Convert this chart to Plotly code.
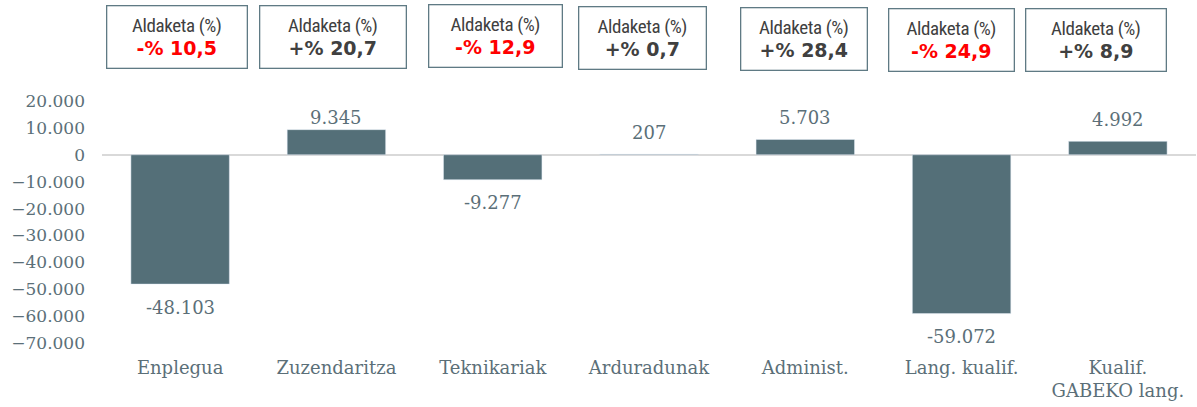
import plotly.graph_objects as go

categories = ["Enplegua", "Zuzendaritza", "Teknikariak", "Arduradunak", "Administ.", "Lang. kualif.", "Kualif.<br>GABEKO lang."]
values = [-48103, 9345, -9277, 207, 5703, -59072, 4992]
change_labels = ["-% 10,5", "+% 20,7", "-% 12,9", "+% 0,7", "+% 28,4", "-% 24,9", "+% 8,9"]
change_header = "Aldaketa (%)"
tick_vals = [20000, 10000, 0, -10000, -20000, -30000, -40000, -50000, -60000, -70000]

BAR = "#546F78"
TXT = "#5B6F78"
SERIF = "DejaVu Serif, Liberation Serif, serif"

Y_MIN, Y_MAX = -70000, 20000
PLOT_H = 242
px_per_unit = PLOT_H / (Y_MAX - Y_MIN)

fig = go.Figure()
fig.add_trace(go.Bar(x=categories, y=values, marker_color=BAR, width=0.63, hoverinfo="skip"))

# value labels (positive labels kept inside the plot area top, like the original)
for c, v in zip(categories, values):
    if v >= 0:
        shift = min(22, 37 - v * px_per_unit)
    else:
        shift = -23
    fig.add_annotation(x=c, y=v, xref="x", yref="y", text=f"{v:,d}".replace(",", "."),
                       showarrow=False, yanchor="middle", yshift=shift,
                       font=dict(family=SERIF, size=18, color=TXT))

# change boxes
box_shift = [-3, -3, 3, -7, -1, -10, -22]
box_yshift = [64, 64, 65, 63, 62, 61, 61]
box_width = [135, 141, 128, 122, 121, 120, 135]
for i, (c, lab) in enumerate(zip(categories, change_labels)):
    col = "#FF0000" if lab.startswith("-") else "#404040"
    fig.add_annotation(
        x=c, xref="x", y=1, yref="paper", yanchor="middle", yshift=box_yshift[i], xshift=box_shift[i],
        showarrow=False, width=box_width[i], height=57, align="center",
        bordercolor="#5F7A84", borderwidth=1.3, borderpad=2, bgcolor="white",
        text=(f"<span style='font-family:Liberation Sans Narrow, Roboto Condensed, Liberation Sans; font-size:19px; color:#404040; letter-spacing:-0.4px'>{change_header}</span>"
              f"<br><span style='font-family:DejaVu Sans, Verdana; font-weight:bold; font-size:19px; color:{col}'><b>{lab}</b></span>"),
        font=dict(family="Liberation Sans", size=18, color="#404040"),
    )

fig.update_layout(
    width=1197, height=407,
    margin=dict(l=102, r=1, t=101, b=64, autoexpand=False),
    paper_bgcolor="white", plot_bgcolor="white",
    separators=",.",
    showlegend=False,
    bargap=0.37,
    hovermode=False,
    xaxis=dict(showgrid=False, showline=False, ticks="", tickfont=dict(family=SERIF, size=18, color=TXT),
               ticklabelstandoff=12),
    yaxis=dict(range=[Y_MIN, Y_MAX], tickvals=tick_vals, tickformat=",d", showgrid=False,
               zeroline=True, zerolinecolor="#D9D9D9", zerolinewidth=2,
               tickfont=dict(family=SERIF, size=17, color=TXT), ticklabelstandoff=16),
)

# remove the default page margin so the chart fills the window exactly
fig.write_html("out.html", config={"displayModeBar": False, "staticPlot": True},
               post_script="document.body.style.margin='0';document.body.style.overflow='hidden';")
